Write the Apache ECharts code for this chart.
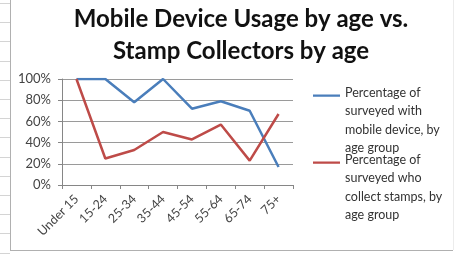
<!DOCTYPE html>
<html><head><meta charset="utf-8">
<script src="https://cdn.jsdelivr.net/npm/echarts@6/dist/echarts.min.js"></script>
<style>html,body{margin:0;padding:0;background:#fff}#c{width:459px;height:256px}</style>
</head><body><div id="c"></div>
<script>
const categories = ['Under 15','15-24','25-34','35-44','45-54','55-64','65-74','75+'];
const mobile = [100, 100, 78, 100, 72, 79, 70, 17];
const stamps = [100, 25, 33, 50, 43, 57, 23, 67];
const yTicks = [0, 20, 40, 60, 80, 100];
const seriesNames = [
  'Percentage of\nsurveyed with\nmobile device, by\nage group',
  'Percentage of\nsurveyed who\ncollect stamps, by\nage group'
];
const colors = ['#4a7ebb', '#be4b48'];

const font = 'Lato, "Open Sans", sans-serif';
const chart = echarts.init(document.getElementById('c'));
const sheetLines = [];
for (let y = 3; y < 256; y += 19.2) {
  sheetLines.push({type:'line', silent:true, shape:{x1:0,y1:Math.round(y)+0.5,x2:10,y2:Math.round(y)+0.5}, style:{stroke:'#d4d4d4',lineWidth:1}});
}
// legend icon: a short line at the level of the first text line inside a 74px-tall box
const legendIcon = 'path://M0,8H30V10.5H0Z M0,0H0.01V0.01H0Z M0,74H0.01V74.01H0Z';
const legendCommon = {
  orient:'vertical', padding:0, itemWidth:27, itemHeight:74, icon:legendIcon,
  itemStyle:{borderWidth:0},
  textStyle:{fontFamily:font, fontSize:12.5, color:'#333', lineHeight:18.3}
};
chart.setOption({
  animation:false,
  backgroundColor:'#fff',
  title:{
    text:'Mobile Device Usage by age vs.\nStamp Collectors by age',
    left:236, top:-2, textAlign:'center',
    textStyle:{fontFamily:font, fontWeight:'bold', fontSize:24, lineHeight:32, color:'#111'}
  },
  legend:[
    Object.assign({}, legendCommon, {data:[seriesNames[0]], left:313, top:84}),
    Object.assign({}, legendCommon, {data:[seriesNames[1]], left:313, top:151})
  ],
  grid:{left:62, top:79, width:231, height:106, containLabel:false},
  xAxis:{
    type:'category', data:categories, boundaryGap:true,
    axisLine:{lineStyle:{color:'#868686'}},
    axisTick:{show:true, length:4, lineStyle:{color:'#868686'}},
    axisLabel:{rotate:45, fontFamily:font, fontSize:12.5, color:'#444', margin:12}
  },
  yAxis:{
    type:'value', min:0, max:100, interval:20,
    axisLine:{show:true, lineStyle:{color:'#868686'}},
    axisTick:{show:true, length:4, lineStyle:{color:'#868686'}},
    splitLine:{lineStyle:{color:'#9a9a9a'}},
    axisLabel:{formatter: v => yTicks.includes(v) ? v + '%' : '', fontFamily:font, fontSize:13, color:'#444', margin:11}
  },
  series:[
    {name:seriesNames[0], type:'line', data:mobile, symbol:'none', lineStyle:{color:colors[0], width:2.5}, itemStyle:{color:colors[0]}},
    {name:seriesNames[1], type:'line', data:stamps, symbol:'none', lineStyle:{color:colors[1], width:2.5}, itemStyle:{color:colors[1]}}
  ],
  graphic: sheetLines.concat([
    {type:'line', silent:true, shape:{x1:10.5,y1:0,x2:10.5,y2:250}, style:{stroke:'#b0b0b0',lineWidth:1}},
    {type:'line', silent:true, shape:{x1:10,y1:250.5,x2:453,y2:250.5}, style:{stroke:'#b0b0b0',lineWidth:1}},
    {type:'line', silent:true, shape:{x1:453.5,y1:0,x2:453.5,y2:250}, style:{stroke:'#ececec',lineWidth:1}}
  ])
});
</script></body></html>
